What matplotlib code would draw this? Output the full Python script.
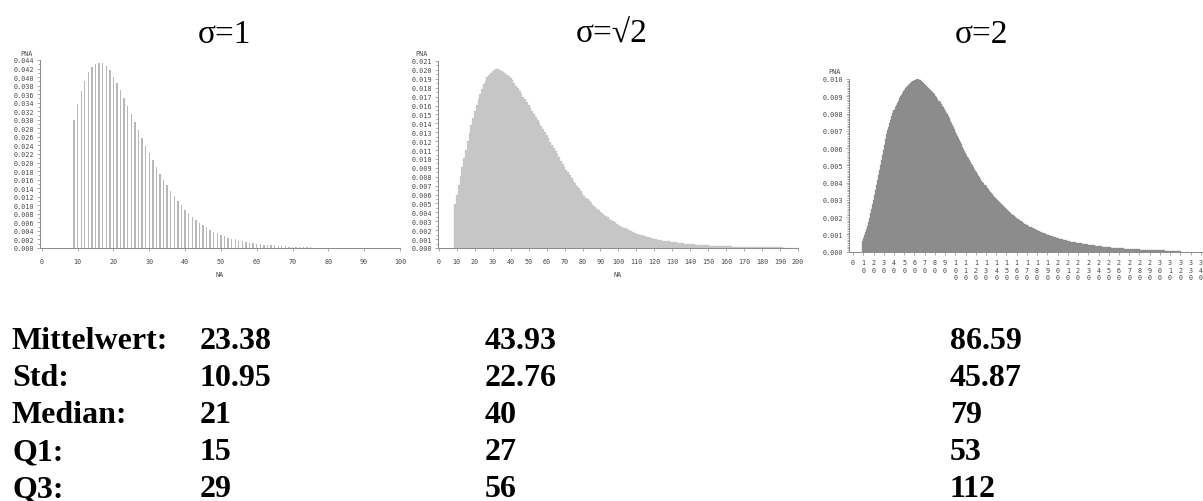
import numpy as np
import matplotlib.pyplot as plt

# PNA per NA value, stored in units of 1e-5; NA runs 9, 10, 11, ...
pna_s1 = [3000, 3370, 3680, 3920, 4110, 4230, 4310, 4340, 4320, 4260,
          4160, 4010, 3870, 3690, 3510, 3330, 3140, 2960, 2770, 2580,
          2390, 2220, 2050, 1890, 1740, 1600, 1470, 1340, 1220, 1100,
          1000, 900, 810, 730, 660, 590, 530, 480, 430, 380,
          340, 300, 270, 240, 220, 200, 170, 160, 140, 120,
          110, 100, 90, 80, 70, 60, 60, 50, 40, 40,
          30, 30, 30, 20, 20, 20, 20, 10, 10, 10,
          10, 10, 10, 10]

pna_s2 = [496, 600, 705, 810, 912, 1010, 1105, 1200, 1290, 1380,
          1460, 1540, 1610, 1675, 1735, 1790, 1840, 1880, 1915, 1945,
          1970, 1988, 2000, 2005, 2005, 2000, 1992, 1980, 1965, 1948,
          1930, 1910, 1882, 1853, 1823, 1793, 1762, 1731, 1700, 1669,
          1637, 1605, 1571, 1537, 1503, 1469, 1435, 1401, 1367, 1333,
          1300, 1267, 1231, 1195, 1159, 1123, 1088, 1053, 1017, 980,
          945, 910, 879, 848, 818, 788, 758, 728, 699, 670,
          640, 610, 588, 566, 545, 524, 503, 483, 462, 442,
          422, 402, 388, 373, 358, 344, 330, 316, 301, 287,
          273, 259, 249, 239, 229, 219, 210, 200, 190, 181,
          171, 162, 156, 150, 143, 137, 131, 125, 119, 113,
          107, 101, 97, 93, 89, 86, 82, 79, 76, 73,
          70, 67, 64, 62, 59, 57, 55, 52, 50, 48,
          46, 44, 42, 41, 39, 37, 36, 34, 33, 32,
          30, 29, 28, 27, 26, 25, 24, 23, 22, 21,
          20, 19, 18, 18, 17, 16, 16, 15, 14, 14,
          13, 13, 12, 12, 11, 11, 10, 10, 10, 9,
          9, 9, 8, 8, 8, 7, 7, 7, 7, 6,
          6, 6, 6, 5, 5, 5, 5, 5, 4, 4,
          4, 4]

pna_s3 = [64, 80, 97, 114, 132, 150, 174, 198, 223, 248,
          274, 300, 328, 356, 385, 414, 443, 471, 500, 530,
          560, 590, 620, 650, 680, 702, 724, 745, 765, 784,
          802, 820, 835, 849, 862, 875, 888, 900, 910, 919,
          928, 937, 945, 953, 960, 966, 972, 977, 982, 986,
          990, 994, 997, 999, 1000, 999, 996, 992, 988, 983,
          977, 971, 965, 959, 953, 947, 941, 935, 929, 924,
          919, 911, 902, 893, 884, 875, 865, 855, 845, 835,
          825, 814, 806, 797, 785, 772, 759, 746, 733, 720,
          708, 695, 683, 670, 658, 645, 633, 621, 609, 597,
          585, 572, 560, 550, 540, 530, 520, 510, 500, 490,
          480, 470, 460, 450, 440, 430, 421, 412, 404, 396,
          387, 378, 370, 362, 354, 347, 340, 332, 325, 318,
          312, 305, 299, 292, 286, 280, 274, 268, 263, 257,
          252, 246, 241, 236, 231, 226, 220, 215, 210, 205,
          200, 196, 191, 187, 183, 179, 175, 171, 167, 163,
          159, 155, 152, 148, 145, 142, 139, 136, 133, 130,
          127, 124, 121, 118, 115, 113, 110, 108, 106, 103,
          101, 99, 97, 95, 93, 91, 89, 87, 85, 83,
          81, 79, 77, 76, 74, 72, 71, 69, 68, 66,
          65, 63, 62, 61, 59, 58, 57, 56, 54, 53,
          52, 51, 50, 49, 48, 47, 46, 45, 44, 43,
          42, 41, 40, 39, 38, 38, 37, 36, 35, 34,
          34, 33, 32, 31, 31, 30, 29, 29, 28, 27,
          27, 26, 25, 25, 24, 24, 23, 23, 22, 22,
          21, 21, 20, 20, 19, 19, 18, 18, 17, 17,
          17, 16, 16, 15, 15, 15, 14, 14, 14, 13,
          13, 13, 12, 12, 12, 11, 11, 11, 11, 10,
          10, 10, 10, 9, 9, 9, 9, 8, 8, 8,
          8, 8, 7, 7, 7, 7, 7, 6, 6, 6,
          6, 6, 6, 5, 5, 5, 5, 5, 5, 5,
          4, 4]

na_first = 9
titles = ['σ=1', 'σ=√2', 'σ=2']

stat_names = ['Mittelwert:', 'Std:', 'Median:', 'Q1:', 'Q3:']
stats_s1 = ['23.38', '10.95', '21', '15', '29']
stats_s2 = ['43.93', '22.76', '40', '27', '56']
stats_s3 = ['86.59', '45.87', '79', '53', '112']

W, H = 1203, 502
fig = plt.figure(figsize=(W / 100, H / 100), dpi=100)

TICK_FS = 4.9
TXT = '#484848'
AXC = '#8a8a8a'
MONO = 'DejaVu Sans Mono'


def box(left, bottom, right, top):
    # pixel box -> figure fraction
    return [left / W, 1 - bottom / H, (right - left) / W, (bottom - top) / H]


def style(ax, ymax, ystep, yminor):
    for s in ['top', 'right']:
        ax.spines[s].set_visible(False)
    for s in ['left', 'bottom']:
        ax.spines[s].set_color(AXC)
        ax.spines[s].set_linewidth(0.7)
    yt = np.round(np.arange(0, ymax + ystep / 2, ystep), 4)
    ax.set_yticks(yt)
    ax.set_yticklabels(['%.3f' % v for v in yt])
    ax.set_yticks(np.arange(0, ymax, yminor), minor=True)
    ax.set_ylim(0, ymax)
    ax.tick_params(which='both', direction='out', color=AXC, width=0.5,
                   labelsize=TICK_FS, labelcolor=TXT, pad=1.5)
    ax.tick_params(which='major', length=2.5)
    ax.tick_params(which='minor', length=1.2)
    for lab in ax.get_xticklabels() + ax.get_yticklabels():
        lab.set_family(MONO)
    ax.set_facecolor('none')


def pna_label(x, y):
    fig.text(x / W, 1 - y / H, 'PNA', fontsize=TICK_FS, color=TXT,
             family=MONO, ha='center', va='center')


# sigma = 1
ax1 = fig.add_axes(box(40, 249, 400, 61))
na1 = np.arange(na_first, na_first + len(pna_s1))
ax1.bar(na1, np.array(pna_s1) * 1e-5, width=0.38, color='#b8b8b8', linewidth=0)
ax1.set_xlim(-0.5, 100)
ax1.set_xticks(np.arange(0, 101, 10))
style(ax1, 0.044, 0.002, 0.001)
ax1.tick_params(axis='x', pad=5)
ax1.set_xlabel('NA', fontsize=TICK_FS, color=TXT, labelpad=5, family=MONO)
pna_label(27, 54)

# sigma = sqrt(2)
ax2 = fig.add_axes(box(438, 249, 798, 62))
na2 = np.arange(na_first, na_first + len(pna_s2))
ax2.bar(na2, np.array(pna_s2) * 1e-5, width=1.0, color='#c6c6c6',
        edgecolor='#c6c6c6', linewidth=0.2)
ax2.set_xlim(-0.5, 200)
ax2.set_xticks(np.arange(0, 201, 10))
style(ax2, 0.021, 0.001, 0.0005)
ax2.tick_params(axis='x', pad=5)
ax2.set_xlabel('NA', fontsize=TICK_FS, color=TXT, labelpad=5, family=MONO)
pna_label(422, 54)

# sigma = 2
ax3 = fig.add_axes(box(849, 252.7, 1211, 80))
na3 = np.arange(na_first, na_first + len(pna_s3))
ax3.bar(na3, np.array(pna_s3) * 1e-5, width=1.0, color='#8c8c8c',
        edgecolor='#8c8c8c', linewidth=0.2)
ax3.set_xlim(-4, 350)
xt3 = np.arange(0, 351, 10)
ax3.set_xticks(xt3)
style(ax3, 0.010, 0.001, 0.0001)
ax3.set_xticklabels(['\n'.join(str(v)) for v in xt3], linespacing=1.3,
                    family=MONO)
ax3.tick_params(axis='x', pad=3)
pna_label(835, 72)

# panel titles
serif = ['Liberation Serif', 'DejaVu Serif']
for xc, t in zip([224, 612, 982], titles):
    fig.text(xc / W, 1 - 43 / H, t, family=serif, fontsize=24,
             ha='center', va='baseline')

# statistics table
for i, name in enumerate(stat_names):
    yb = 1 - (349 + 37 * i) / H
    fig.text(12 / W, yb, name, family=serif, fontsize=23, fontweight='bold',
             va='baseline')
    for xl, col in zip([200, 485, 950], [stats_s1, stats_s2, stats_s3]):
        fig.text(xl / W, yb, col[i], family=serif, fontsize=23,
                 fontweight='bold', va='baseline')

fig.savefig('out.png', dpi=100)
